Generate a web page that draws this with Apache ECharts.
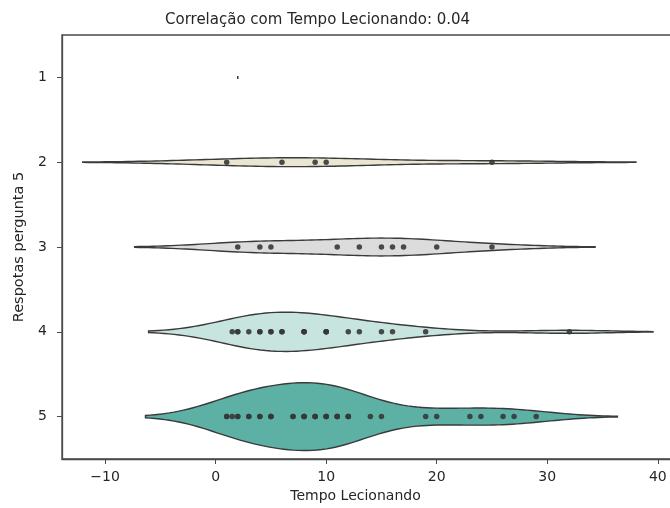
<!DOCTYPE html>
<html>
<head>
<meta charset="utf-8">
<script src="https://cdn.jsdelivr.net/npm/echarts@6/dist/echarts.min.js"></script>
<style>
html,body{margin:0;padding:0;background:#fff;}
#chart{width:670px;height:508px;}
</style>
</head>
<body>
<div id="chart"></div>
<script>
// ---- data ----
const categories = ['1', '2', '3', '4', '5'];
const tempoResp1 = [2];
const tempoResp2 = [1, 6, 9, 10, 25];
const tempoResp3 = [2, 4, 5, 11, 13, 15, 16, 17, 20, 25];
const tempoResp4 = [1.5, 2, 2, 3, 4, 4, 5, 5, 6, 6, 8, 8, 8, 10, 10, 10, 12, 13, 15, 16, 19, 32];
const tempoResp5 = [1, 1, 1.5, 2, 2, 3, 3, 4, 4, 5, 5, 5, 7, 7, 8, 8, 8, 9, 9, 9, 10, 10, 10, 11, 11, 11, 12, 12, 12, 14, 15, 19, 20, 23, 24, 26, 27, 29];
const xTickValues = [-10, 0, 10, 20, 30, 40];
const titleText = 'Correlação com Tempo Lecionando: 0.04';
const xName = 'Tempo Lecionando';
const yName = 'Respotas pergunta 5';

const groups = [tempoResp1, tempoResp2, tempoResp3, tempoResp4, tempoResp5];
const fills = ['#c9a36b', '#ebe6d2', '#dcdcdc', '#c7e5de', '#5db1a4'];
const lineColor = '#3a3a3a';

// ---- gaussian KDE (Scott's rule, cut = 2, gridsize = 100) ----
function kde(vals) {
  const n = vals.length;
  if (n < 2) return null;
  const mean = vals.reduce((a, b) => a + b, 0) / n;
  const sd = Math.sqrt(vals.reduce((a, b) => a + (b - mean) * (b - mean), 0) / (n - 1));
  const bw = sd * Math.pow(n, -0.2);
  const lo = Math.min(...vals) - 2 * bw, hi = Math.max(...vals) + 2 * bw;
  const xs = [], ds = [];
  for (let i = 0; i < 100; i++) {
    const x = lo + (hi - lo) * i / 99;
    let s = 0;
    for (const v of vals) { const z = (x - v) / bw; s += Math.exp(-0.5 * z * z); }
    xs.push(x); ds.push(s / (n * bw * Math.sqrt(2 * Math.PI)));
  }
  return { xs, ds };
}
const maxCount = Math.max(...groups.map(g => g.length));
const profiles = groups.map(g => {
  const k = kde(g);
  if (!k) return null;
  const mx = Math.max(...k.ds);
  return { xs: k.xs, ds: k.ds.map(d => d / mx * g.length / maxCount) };
});

const violinData = categories.map((c, i) => [groups[i][0], i]);
const pointData = [];
groups.forEach((g, i) => { if (g.length > 1) g.forEach(v => pointData.push([v, i])); });

function renderViolin(params, api) {
  const i = params.dataIndex;
  const band = Math.abs(api.coord([0, 1])[1] - api.coord([0, 0])[1]);
  const prof = profiles[i];
  if (!prof) {
    const p = api.coord([groups[i][0], i]);
    const h = Math.max(1.5, 0.4 * band / maxCount);
    return {
      type: 'line',
      shape: { x1: p[0], y1: p[1] - h, x2: p[0], y2: p[1] + h },
      style: { stroke: lineColor, lineWidth: 1.5 }
    };
  }
  const upper = [], lower = [];
  for (let k = 0; k < prof.xs.length; k++) {
    const p = api.coord([prof.xs[k], i]);
    const h = prof.ds[k] * 0.4 * band;
    upper.push([p[0], p[1] - h]);
    lower.push([p[0], p[1] + h]);
  }
  return {
    type: 'polygon',
    shape: { points: upper.concat(lower.reverse()) },
    style: { fill: fills[i], stroke: lineColor, lineWidth: 1.4 }
  };
}

const chart = echarts.init(document.getElementById('chart'), null, { renderer: 'canvas' });
const font = 'DejaVu Sans';
chart.setOption({
  animation: false,
  backgroundColor: '#fff',
  title: {
    text: titleText,
    left: 160, top: 8,
    textStyle: { fontFamily: font, fontSize: 15, fontWeight: 'normal', color: '#262626' }
  },
  grid: {
    left: 62, top: 35, width: 619, height: 424,
    outerBoundsMode: 'none', containLabel: false,
    show: true, borderColor: '#4a4a4a', borderWidth: 1.3, backgroundColor: 'transparent'
  },
  xAxis: {
    type: 'value', min: -13.9, max: 42.1,
    name: xName, nameLocation: 'middle', nameGap: 30,
    nameTextStyle: { fontFamily: font, fontSize: 14, color: '#262626', padding: [0, 32, 0, 0] },
    splitLine: { show: false },
    axisLine: { show: true, onZero: false, lineStyle: { color: '#4a4a4a', width: 1.3 } },
    axisTick: { show: true, length: 5, customValues: xTickValues, lineStyle: { color: '#4a4a4a' } },
    axisLabel: {
      customValues: xTickValues, margin: 11,
      fontFamily: font, fontSize: 14, color: '#262626',
      formatter: v => String(v).replace('-', '\u2212')
    }
  },
  yAxis: {
    type: 'category', data: categories, inverse: true, boundaryGap: true,
    name: yName, nameLocation: 'middle', nameGap: 32, nameRotate: 90,
    nameTextStyle: { fontFamily: font, fontSize: 14.5, color: '#262626' },
    axisLine: { show: true, onZero: false, lineStyle: { color: '#4a4a4a', width: 1.3 } },
    axisTick: { show: true, length: 5, alignWithLabel: true, lineStyle: { color: '#4a4a4a' } },
    axisLabel: { margin: 15, fontFamily: font, fontSize: 14, color: '#262626' },
    splitLine: { show: false }
  },
  series: [
    {
      type: 'custom', name: 'violin', renderItem: renderViolin,
      data: violinData, clip: true, z: 2,
      encode: { x: 0, y: 1 }
    },
    {
      type: 'scatter', name: 'pontos', data: pointData,
      symbol: 'circle', symbolSize: 5.5, z: 3,
      itemStyle: { color: '#363838', opacity: 0.9 },
      emphasis: { disabled: true }
    }
  ]
});
</script>
</body>
</html>
